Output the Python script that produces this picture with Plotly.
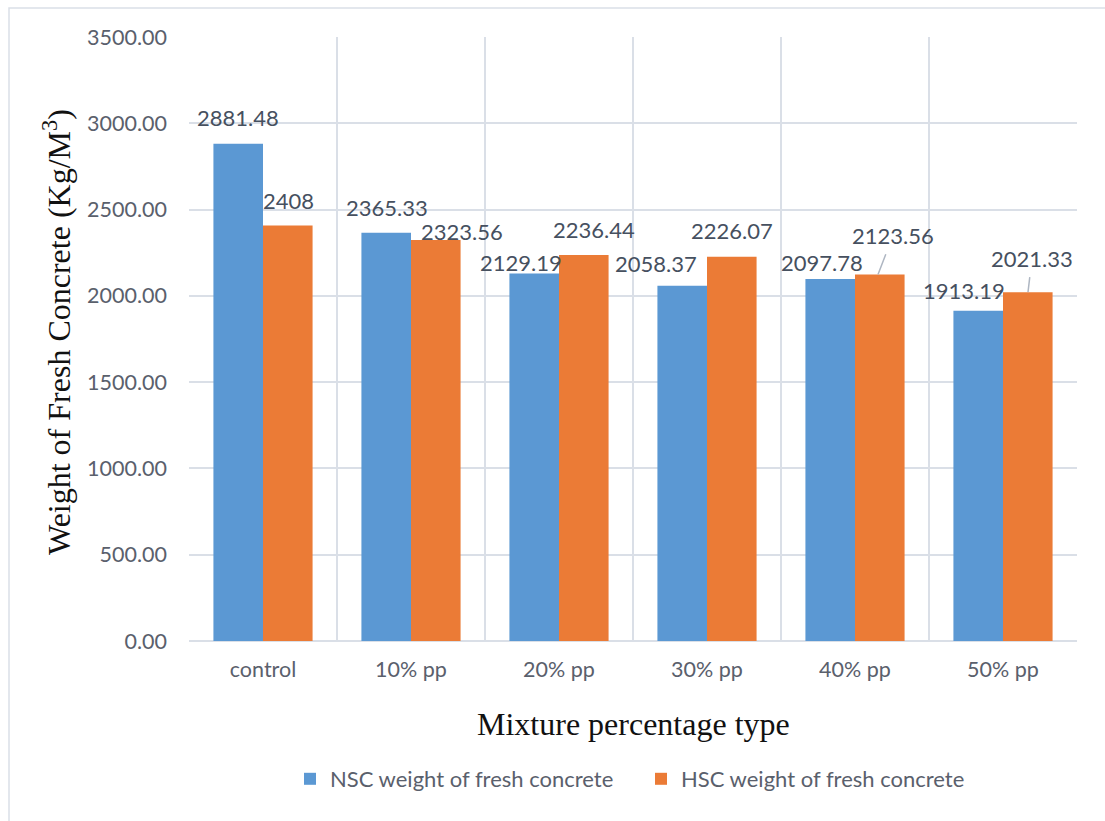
import plotly.graph_objects as go

# Mixture types and measured fresh-concrete weights (kg/m3)
categories = ["control", "10% pp", "20% pp", "30% pp", "40% pp", "50% pp"]
nsc_weight = [2881.48, 2365.33, 2129.19, 2058.37, 2097.78, 1913.19]
hsc_weight = [2408, 2323.56, 2236.44, 2226.07, 2123.56, 2021.33]
y_ticks = [0, 500, 1000, 1500, 2000, 2500, 3000, 3500]

series_names = ["NSC weight of fresh concrete", "HSC weight of fresh concrete"]

BLUE = "#5b98d3"
ORANGE = "#eb7b36"
GRID = "#dadfe7"
LABEL = "#46505f"
TICK = "#5a606c"
SANS = "Lato, 'Open Sans', sans-serif"
SERIF = "'Liberation Serif', 'Times New Roman', serif"

fig = go.Figure()
fig.add_trace(go.Bar(x=categories, y=nsc_weight, name=series_names[0],
                     marker=dict(color=BLUE, line=dict(width=0)), legend="legend"))
fig.add_trace(go.Bar(x=categories, y=hsc_weight, name=series_names[1],
                     marker=dict(color=ORANGE, line=dict(width=0)), legend="legend2"))

# Value-label placement per bar: (x shift px, y shift px above bar top)
nsc_offsets = [(-25, 26), (-24, 25), (-38, 11), (-51, 22), (-33, 16), (-39, 20)]
hsc_offsets = [(25, 25), (51, 9), (35, 26), (25, 26), (38, 38), (29, 35)]
# Labels that are connected to their bar by a leader line: index -> (anchor x shift, dx, dy)
hsc_leaders = {4: (23, 15, -39), 5: (25, 4, -34)}

LABEL_FONT = dict(family=SANS, size=22, color=LABEL)

annotations = []
for i, (cat, v) in enumerate(zip(categories, nsc_weight)):
    dx, dy = nsc_offsets[i]
    annotations.append(dict(x=cat, y=v, xref="x", yref="y", text=f"{v:g}",
                            showarrow=False, xshift=dx, yshift=dy, yanchor="middle",
                            font=LABEL_FONT))
for i, (cat, v) in enumerate(zip(categories, hsc_weight)):
    if i in hsc_leaders:
        sx, ax, ay = hsc_leaders[i]
        annotations.append(dict(x=cat, y=v, xref="x", yref="y", text=f"{v:g}",
                                showarrow=True, arrowhead=0, arrowwidth=1.5,
                                arrowcolor="#aeb6c2", ax=ax, ay=ay, xshift=sx,
                                standoff=0, startstandoff=4, font=LABEL_FONT))
    else:
        dx, dy = hsc_offsets[i]
        annotations.append(dict(x=cat, y=v, xref="x", yref="y", text=f"{v:g}",
                                showarrow=False, xshift=dx, yshift=dy, yanchor="middle",
                                font=LABEL_FONT))

# Axis titles
annotations.append(dict(text="Mixture percentage type", xref="paper", yref="paper",
                        x=(633 - 189) / 888, y=(641 - 724) / 604, showarrow=False,
                        xanchor="center", yanchor="middle",
                        font=dict(family=SERIF, size=32, color="#111111")))
annotations.append(dict(text="Weight of Fresh Concrete (Kg/M<sup>3</sup>)", xref="paper",
                        yref="paper", x=(57 - 189) / 888, y=(641 - 332) / 604,
                        showarrow=False, textangle=-90, xanchor="center", yanchor="middle",
                        font=dict(family=SERIF, size=32, color="#111111")))

# Outer chart frame
shapes = [dict(type="rect", xref="paper", yref="paper",
               x0=(9 - 189) / 888, x1=(1112 - 189) / 888,
               y0=(641 - 830) / 604, y1=(641 - 8) / 604,
               line=dict(color=GRID, width=1.5), fillcolor="rgba(0,0,0,0)", layer="below")]

legend_style = dict(orientation="h", xanchor="left", yanchor="middle",
                    y=(641 - 779) / 604, bgcolor="rgba(0,0,0,0)",
                    font=dict(family=SANS, size=22, color=TICK))

fig.update_layout(
    width=1105, height=821,
    margin=dict(l=189, r=28, t=37, b=180),
    paper_bgcolor="white", plot_bgcolor="white",
    barmode="group", bargap=0.33, bargroupgap=0,
    showlegend=True,
    legend=dict(x=(290 - 189) / 888, **legend_style),
    legend2=dict(x=(641 - 189) / 888, **legend_style),
    annotations=annotations,
    shapes=shapes,
    xaxis=dict(type="category", tickson="boundaries", showgrid=True,
               gridcolor=GRID, gridwidth=1.8, ticks="", showline=False,
               ticklabelstandoff=13,
               tickfont=dict(family=SANS, size=21.5, color=TICK)),
    yaxis=dict(range=[0, 3500], tickvals=y_ticks, tickformat=".2f",
               showgrid=True, gridcolor=GRID, gridwidth=1.8,
               zeroline=True, zerolinecolor=GRID, zerolinewidth=1.8,
               ticks="", ticklabelstandoff=21,
               tickfont=dict(family=SANS, size=21.5, color=TICK)),
)

fig.write_html("out.html")
